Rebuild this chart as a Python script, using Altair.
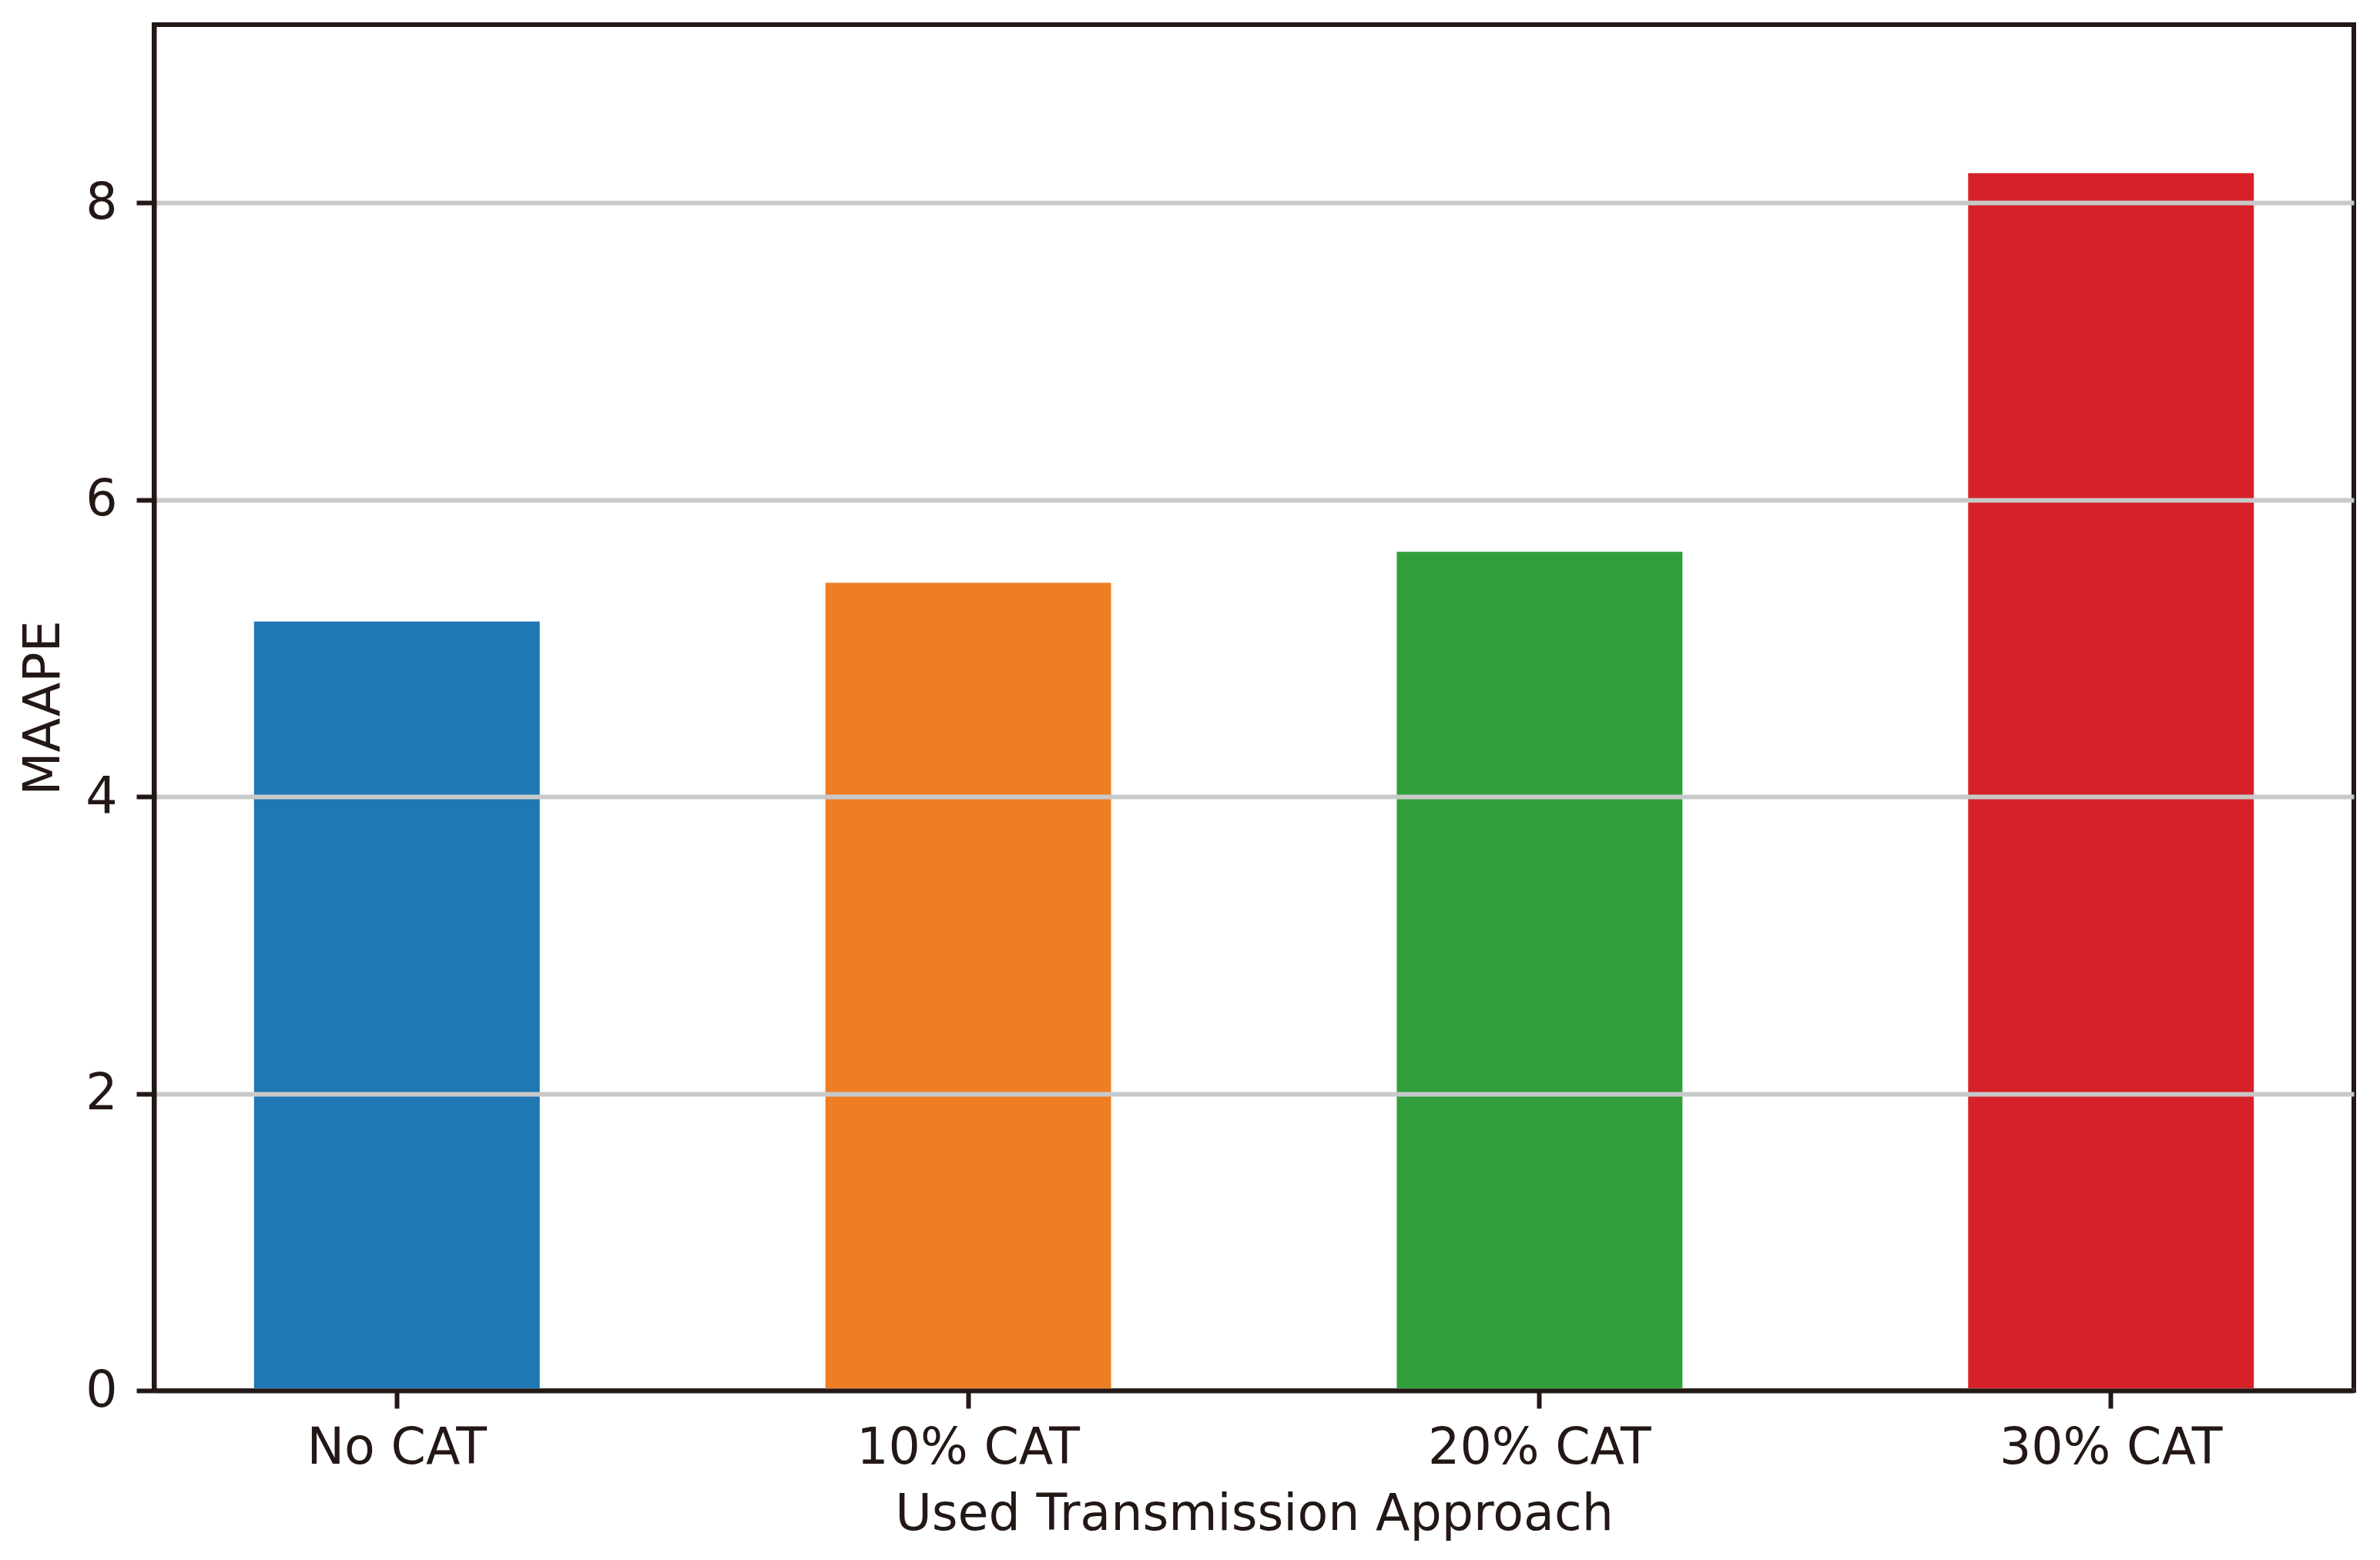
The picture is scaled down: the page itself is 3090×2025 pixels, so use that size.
import altair as alt
import pandas as pd

categories = ["No CAT", "10% CAT", "20% CAT", "30% CAT"]
maape = [5.18, 5.44, 5.65, 8.20]
colors = ["#1f77b4", "#ee7e24", "#31a03c", "#d62129"]
y_ticks = [0, 2, 4, 6, 8]

df = pd.DataFrame({"approach": categories, "MAAPE": maape})

ink = "#231815"
font = "DejaVu Sans"

chart = alt.Chart(df).mark_bar().encode(
    x=alt.X(
        "approach:N",
        sort=categories,
        title="Used Transmission Approach",
        scale=alt.Scale(paddingInner=0.5, paddingOuter=0.175),
        axis=alt.Axis(
            labelAngle=0, labelFontSize=65, labelFont=font, labelColor=ink,
            labelLimit=1000,
            labelPadding=20, tickSize=23, tickWidth=6, tickColor=ink,
            domainColor=ink, domainWidth=6, titleFontSize=65, titleFont=font,
            titleColor=ink, titleFontWeight="normal", titlePadding=22, zindex=1,
        ),
    ),
    y=alt.Y(
        "MAAPE:Q",
        title="MAAPE",
        scale=alt.Scale(domain=[0, 9.2], nice=False, zero=True),
        axis=alt.Axis(
            values=y_ticks, format="d", grid=True, gridColor="#c8c9c9", gridWidth=6,
            labelFontSize=65, labelFont=font, labelColor=ink, labelPadding=25,
            tickSize=23, tickWidth=6, tickColor=ink, domainColor=ink, domainWidth=6,
            titleFontSize=65, titleFont=font, titleColor=ink, titleFontWeight="normal",
            titlePadding=20, zindex=1,
        ),
    ),
    color=alt.Color(
        "approach:N",
        scale=alt.Scale(domain=categories, range=colors),
        legend=None,
    ),
).properties(
    width=2856,
    height=1773,
    padding={"left": 192, "top": 24, "right": 26, "bottom": 212},
    autosize=alt.AutoSizeParams(type="none"),
    background="white",
).configure_view(
    stroke=ink, strokeWidth=6
)

chart.save("out.html", embed_options={"renderer": "svg", "actions": False})
